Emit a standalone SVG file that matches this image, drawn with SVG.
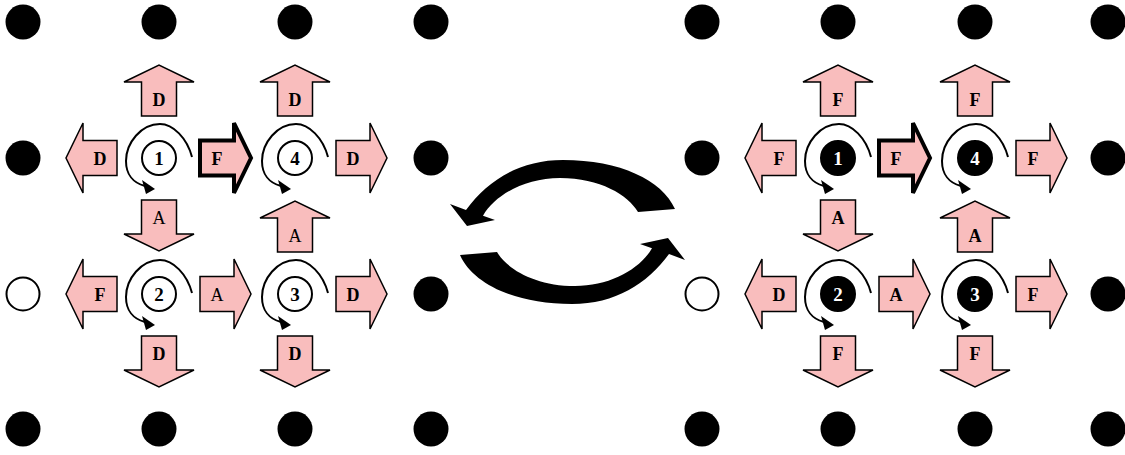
<svg xmlns="http://www.w3.org/2000/svg" xmlns:xlink="http://www.w3.org/1999/xlink" width="1125" height="455" viewBox="0 0 1125 455">
<style>
.dot{fill:#000}
.open{fill:#fff;stroke:#000;stroke-width:2}
.nodeW{fill:#fff;stroke:#000;stroke-width:2}
.nodeB{fill:#000;stroke:#000;stroke-width:2}
.numW{font-family:"Liberation Serif",serif;font-weight:bold;font-size:19px;fill:#000;text-anchor:middle}
.numB{font-family:"Liberation Serif",serif;font-weight:bold;font-size:19px;fill:#fff;text-anchor:middle}
.arr{fill:#F9BDBD;stroke:#000;stroke-width:1.5;stroke-linejoin:miter}
.bold{stroke-width:4}
.lb{font-family:"Liberation Serif",serif;font-weight:bold;font-size:18px;fill:#000;text-anchor:middle}
.lr{font-family:"Liberation Serif",serif;font-weight:normal;font-size:18px;fill:#000;text-anchor:middle}
.curl{fill:none;stroke:#000;stroke-width:2}
.big{fill:#000}
</style>
<defs>
<path id="ar" d="M0,-17.5 H34 V-35 L51,0 L34,35 V17.5 H0 Z"/>
<g id="curl">
<path class="curl" d="M33,-1 C28,-20 14,-34 1,-34 C-18,-34 -33,-15 -33,3 C-33,16 -26,25 -14,28"/>
<polygon points="-17,22 -4,31 -13,36" fill="#000"/>
</g>
</defs>
<rect width="1125" height="455" fill="#fff"/>
<g id="grid">
<circle class="dot" cx="23" cy="22" r="17.5"/>
<circle class="dot" cx="159" cy="22" r="17.5"/>
<circle class="dot" cx="295" cy="22" r="17.5"/>
<circle class="dot" cx="431" cy="22" r="17.5"/>
<circle class="dot" cx="702" cy="22" r="17.5"/>
<circle class="dot" cx="838" cy="22" r="17.5"/>
<circle class="dot" cx="975" cy="22" r="17.5"/>
<circle class="dot" cx="1108" cy="22" r="17.5"/>
<circle class="dot" cx="23" cy="158" r="17.5"/>
<circle class="dot" cx="431" cy="158" r="17.5"/>
<circle class="dot" cx="702" cy="158" r="17.5"/>
<circle class="dot" cx="1108" cy="158" r="17.5"/>
<circle class="open" cx="23" cy="294" r="16.5"/>
<circle class="dot" cx="431" cy="294" r="17.5"/>
<circle class="open" cx="702" cy="294" r="16.5"/>
<circle class="dot" cx="1108" cy="294" r="17.5"/>
<circle class="dot" cx="23" cy="429" r="17.5"/>
<circle class="dot" cx="159" cy="429" r="17.5"/>
<circle class="dot" cx="295" cy="429" r="17.5"/>
<circle class="dot" cx="431" cy="429" r="17.5"/>
<circle class="dot" cx="702" cy="429" r="17.5"/>
<circle class="dot" cx="838" cy="429" r="17.5"/>
<circle class="dot" cx="975" cy="429" r="17.5"/>
<circle class="dot" cx="1108" cy="429" r="17.5"/>
</g>
<g id="connectors">
<!-- left panel node 1 (159,158) -->
<use xlink:href="#ar" class="arr" transform="translate(159,116) rotate(-90)"/><text class="lb" x="159" y="105.5">D</text>
<use xlink:href="#ar" class="arr" transform="translate(117,158) rotate(180)"/><text class="lb" x="100" y="164.5">D</text>
<use xlink:href="#ar" class="arr bold" transform="translate(200,158)"/><text class="lb" x="217" y="164.5">F</text>
<use xlink:href="#ar" class="arr" transform="translate(159,200) rotate(90)"/><text class="lr" x="159" y="223.5">A</text>
<!-- node 4 (295,158) -->
<use xlink:href="#ar" class="arr" transform="translate(295,116) rotate(-90)"/><text class="lb" x="295" y="105.5">D</text>
<use xlink:href="#ar" class="arr" transform="translate(336,158)"/><text class="lb" x="353" y="164.5">D</text>
<!-- node 2 (159,294) -->
<use xlink:href="#ar" class="arr" transform="translate(117,294) rotate(180)"/><text class="lb" x="100" y="300.5">F</text>
<use xlink:href="#ar" class="arr" transform="translate(200,294)"/><text class="lr" x="217" y="300.5">A</text>
<use xlink:href="#ar" class="arr" transform="translate(159,336) rotate(90)"/><text class="lb" x="159" y="359.5">D</text>
<!-- node 3 (295,294) -->
<use xlink:href="#ar" class="arr" transform="translate(295,252) rotate(-90)"/><text class="lr" x="295" y="241.5">A</text>
<use xlink:href="#ar" class="arr" transform="translate(336,294)"/><text class="lb" x="353" y="300.5">D</text>
<use xlink:href="#ar" class="arr" transform="translate(295,336) rotate(90)"/><text class="lb" x="295" y="359.5">D</text>
<!-- right panel node 1 (838,158) -->
<use xlink:href="#ar" class="arr" transform="translate(838,116) rotate(-90)"/><text class="lb" x="838" y="105.5">F</text>
<use xlink:href="#ar" class="arr" transform="translate(796,158) rotate(180)"/><text class="lb" x="779" y="164.5">F</text>
<use xlink:href="#ar" class="arr bold" transform="translate(879,158)"/><text class="lb" x="896" y="164.5">F</text>
<use xlink:href="#ar" class="arr" transform="translate(838,200) rotate(90)"/><text class="lb" x="838" y="223.5">A</text>
<!-- node 4 (975,158) -->
<use xlink:href="#ar" class="arr" transform="translate(975,116) rotate(-90)"/><text class="lb" x="975" y="105.5">F</text>
<use xlink:href="#ar" class="arr" transform="translate(1016,158)"/><text class="lb" x="1033" y="164.5">F</text>
<!-- node 2 (838,294) -->
<use xlink:href="#ar" class="arr" transform="translate(796,294) rotate(180)"/><text class="lb" x="779" y="300.5">D</text>
<use xlink:href="#ar" class="arr" transform="translate(879,294)"/><text class="lb" x="896" y="300.5">A</text>
<use xlink:href="#ar" class="arr" transform="translate(838,336) rotate(90)"/><text class="lb" x="838" y="359.5">F</text>
<!-- node 3 (975,294) -->
<use xlink:href="#ar" class="arr" transform="translate(975,252) rotate(-90)"/><text class="lb" x="975" y="241.5">A</text>
<use xlink:href="#ar" class="arr" transform="translate(1016,294)"/><text class="lb" x="1033" y="300.5">F</text>
<use xlink:href="#ar" class="arr" transform="translate(975,336) rotate(90)"/><text class="lb" x="975" y="359.5">F</text>
</g>
<g id="node-L1"><use xlink:href="#curl" transform="translate(159,158)"/><circle class="nodeW" cx="159" cy="158" r="17"/><text class="numW" x="159" y="165">1</text></g>
<g id="node-L4"><use xlink:href="#curl" transform="translate(295,158)"/><circle class="nodeW" cx="295" cy="158" r="17"/><text class="numW" x="295" y="165">4</text></g>
<g id="node-L2"><use xlink:href="#curl" transform="translate(159,294)"/><circle class="nodeW" cx="159" cy="294" r="17"/><text class="numW" x="159" y="301">2</text></g>
<g id="node-L3"><use xlink:href="#curl" transform="translate(295,294)"/><circle class="nodeW" cx="295" cy="294" r="17"/><text class="numW" x="295" y="301">3</text></g>
<g id="node-R1"><use xlink:href="#curl" transform="translate(838,158)"/><circle class="nodeB" cx="838" cy="158" r="17"/><text class="numB" x="838" y="165">1</text></g>
<g id="node-R4"><use xlink:href="#curl" transform="translate(975,158)"/><circle class="nodeB" cx="975" cy="158" r="17"/><text class="numB" x="975" y="165">4</text></g>
<g id="node-R2"><use xlink:href="#curl" transform="translate(838,294)"/><circle class="nodeB" cx="838" cy="294" r="17"/><text class="numB" x="838" y="301">2</text></g>
<g id="node-R3"><use xlink:href="#curl" transform="translate(975,294)"/><circle class="nodeB" cx="975" cy="294" r="17"/><text class="numB" x="975" y="301">3</text></g>
<g id="swap">
<path id="bigArrow" class="big" d="M675,209 C662,180 620,160 563,160 C520,160 488,180 466,210 L450,204 L467,226 L495,220 L483,215.7 C495,195 525,178 560,178 C600,178 628,195 638,212 Z"/>
<use xlink:href="#bigArrow" transform="rotate(180 567.5 232)"/>
</g>
</svg>
